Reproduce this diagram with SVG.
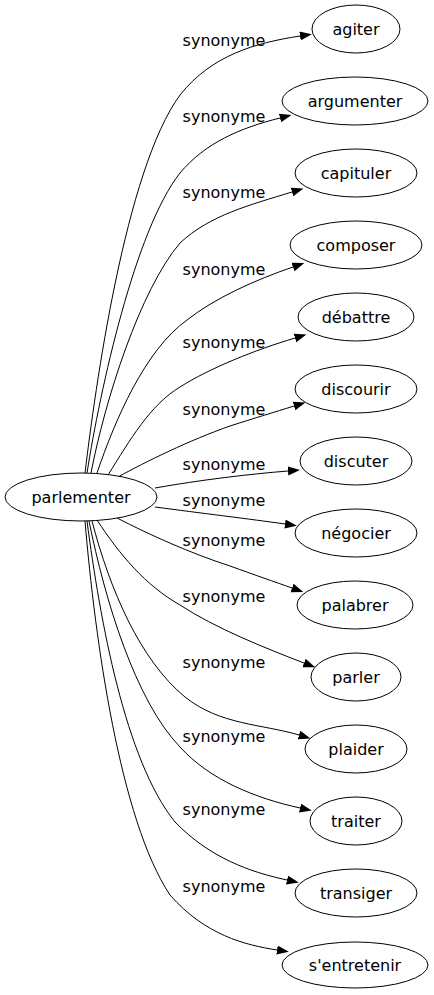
<svg xmlns="http://www.w3.org/2000/svg" width="434" height="995" viewBox="0 0 434 995">
<defs>
<marker id="arr" markerUnits="userSpaceOnUse" markerWidth="13" markerHeight="10" refX="0" refY="4.5" orient="auto">
<path d="M0,0 L12,4.5 L0,9 z" fill="#000"/>
</marker>
<style>
.n ellipse{fill:#fff;stroke:#000;stroke-width:1}
text{font-family:"DejaVu Sans",sans-serif;font-size:16px;fill:#000}
.n text{text-anchor:middle}
.e path{fill:none;stroke:#000;stroke-width:1;marker-end:url(#arr)}
.e text{text-anchor:middle}
</style>
</defs>
<rect width="434" height="995" fill="#fff"/>
<g id="edges" class="e">
<path d="M85,473 C95,390 125,170 180,95 C212,55 255,43 300,36"/>
<path d="M87,473 C100,390 135,230 180,173 C205,143 240,128 280,118"/>
<path d="M91,473 C105,400 140,290 180,243 C210,215 250,205 292,192"/>
<path d="M97,473 C115,420 145,350 187,320 C215,298 255,280 293,267"/>
<path d="M108,475 C130,440 150,405 180,387 C210,368 255,350 295,338"/>
<path d="M118,477 C145,462 190,440 230,426 C255,418 275,412 294,406"/>
<path d="M155,488 C200,480 250,474 288,471"/>
<path d="M155,507 C200,513 250,519 285,524"/>
<path d="M117,518 C150,535 190,553 230,566 C255,575 275,582 292,588"/>
<path d="M97,520 C120,555 145,585 180,605 C215,628 265,648 304,663"/>
<path d="M92,521 C110,590 140,660 185,697 C220,725 262,724 299,735"/>
<path d="M89,521 C105,600 135,700 180,747 C210,780 255,798 300,808"/>
<path d="M87,521 C100,620 125,760 175,822 C210,858 250,872 287,880"/>
<path d="M85,521 C95,640 120,820 170,895 C205,935 245,945 277,950"/>
<text x="224" y="46">synonyme</text>
<text x="224" y="122">synonyme</text>
<text x="224" y="198">synonyme</text>
<text x="224" y="275">synonyme</text>
<text x="224" y="348">synonyme</text>
<text x="224" y="415">synonyme</text>
<text x="224" y="470">synonyme</text>
<text x="224" y="506">synonyme</text>
<text x="224" y="546">synonyme</text>
<text x="224" y="602">synonyme</text>
<text x="224" y="668">synonyme</text>
<text x="224" y="742">synonyme</text>
<text x="224" y="815">synonyme</text>
<text x="224" y="892">synonyme</text>
</g>
<g id="parlementer" class="n"><ellipse cx="81" cy="497" rx="76" ry="24"/><text x="81" y="503">parlementer</text></g>
<g id="agiter" class="n"><ellipse cx="356" cy="29" rx="44" ry="24"/><text x="356" y="35">agiter</text></g>
<g id="argumenter" class="n"><ellipse cx="355" cy="101" rx="73" ry="24"/><text x="355" y="107">argumenter</text></g>
<g id="capituler" class="n"><ellipse cx="356" cy="173" rx="61" ry="24"/><text x="356" y="179">capituler</text></g>
<g id="composer" class="n"><ellipse cx="356" cy="245" rx="66" ry="24"/><text x="356" y="251">composer</text></g>
<g id="debattre" class="n"><ellipse cx="356" cy="317" rx="58" ry="24"/><text x="356" y="323">débattre</text></g>
<g id="discourir" class="n"><ellipse cx="356" cy="389" rx="61" ry="24"/><text x="356" y="395">discourir</text></g>
<g id="discuter" class="n"><ellipse cx="356" cy="461" rx="56" ry="24"/><text x="356" y="467">discuter</text></g>
<g id="negocier" class="n"><ellipse cx="356" cy="533" rx="61" ry="24"/><text x="356" y="539">négocier</text></g>
<g id="palabrer" class="n"><ellipse cx="355" cy="605" rx="58" ry="24"/><text x="355" y="611">palabrer</text></g>
<g id="parler" class="n"><ellipse cx="356" cy="677" rx="45" ry="24"/><text x="356" y="683">parler</text></g>
<g id="plaider" class="n"><ellipse cx="356" cy="749" rx="51" ry="24"/><text x="356" y="755">plaider</text></g>
<g id="traiter" class="n"><ellipse cx="356" cy="821" rx="46" ry="24"/><text x="356" y="827">traiter</text></g>
<g id="transiger" class="n"><ellipse cx="356" cy="893" rx="61" ry="24"/><text x="356" y="899">transiger</text></g>
<g id="sentretenir" class="n"><ellipse cx="355" cy="965" rx="73" ry="23"/><text x="355" y="971">s'entretenir</text></g>
</svg>
